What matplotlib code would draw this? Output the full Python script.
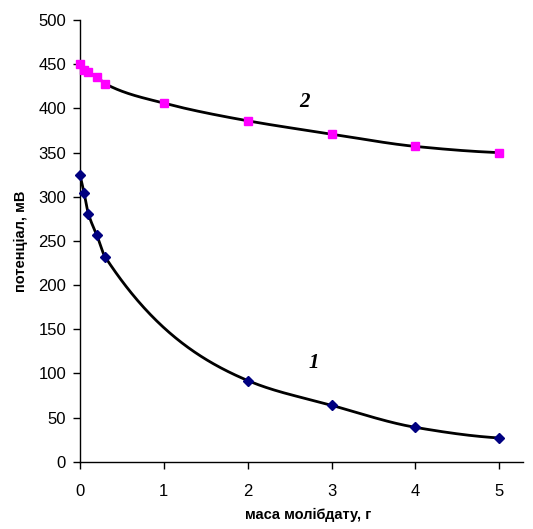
import numpy as np
import matplotlib.pyplot as plt

# маса молібдату, г
mass_1 = [0, 0.05, 0.1, 0.2, 0.3, 2, 3, 4, 5]
potential_1 = [325, 304, 281, 257, 232, 92, 64, 39, 27]

mass_2 = [0, 0.05, 0.1, 0.2, 0.3, 1, 2, 3, 4, 5]
potential_2 = [450, 444, 441, 436, 428, 406, 386, 371, 357, 350]


def smooth(x, y, n=400):
    # монотонна кубічна інтерполяція (PCHIP)
    x = np.asarray(x, float)
    y = np.asarray(y, float)
    h = np.diff(x)
    delta = np.diff(y) / h
    d = np.zeros_like(y)
    for k in range(1, len(x) - 1):
        if delta[k - 1] * delta[k] > 0:
            w1 = 2 * h[k] + h[k - 1]
            w2 = h[k] + 2 * h[k - 1]
            d[k] = (w1 + w2) / (w1 / delta[k - 1] + w2 / delta[k])
    d[0] = ((2 * h[0] + h[1]) * delta[0] - h[0] * delta[1]) / (h[0] + h[1])
    if np.sign(d[0]) != np.sign(delta[0]):
        d[0] = 0
    d[-1] = ((2 * h[-1] + h[-2]) * delta[-1] - h[-1] * delta[-2]) / (h[-1] + h[-2])
    if np.sign(d[-1]) != np.sign(delta[-1]):
        d[-1] = 0
    xs = np.linspace(x[0], x[-1], n)
    k = np.clip(np.searchsorted(x, xs) - 1, 0, len(x) - 2)
    s = (xs - x[k]) / h[k]
    h00 = 2 * s**3 - 3 * s**2 + 1
    h10 = s**3 - 2 * s**2 + s
    h01 = -2 * s**3 + 3 * s**2
    h11 = s**3 - s**2
    ys = h00 * y[k] + h10 * h[k] * d[k] + h01 * y[k + 1] + h11 * h[k] * d[k + 1]
    return xs, ys


plt.rcParams['font.family'] = ['Liberation Sans', 'DejaVu Sans']

fig = plt.figure(figsize=(5.33, 5.29), dpi=100)
ax = fig.add_axes([0.150, 0.127, 0.831, 0.835])

sx, sy = smooth(mass_1, potential_1)
ax.plot(sx, sy, color='black', lw=2, zorder=2)
sx, sy = smooth(mass_2, potential_2)
ax.plot(sx, sy, color='black', lw=2, zorder=2)

ax.plot(mass_1, potential_1, 'D', color='#000080', ms=5, zorder=3, clip_on=False)
ax.plot(mass_2, potential_2, 's', color='#FF00FF', ms=5.5, zorder=3, clip_on=False)

ax.text(2.68, 407, '2', fontsize=15, fontweight='bold', fontstyle='italic',
        family=['Liberation Serif'], ha='center', va='center')
ax.text(2.79, 112, '1', fontsize=15, fontweight='bold', fontstyle='italic',
        family=['Liberation Serif'], ha='center', va='center')

ax.set_xlim(0, 5.28)
ax.set_ylim(0, 500)
ax.set_xticks(range(0, 6))
ax.set_yticks(range(0, 501, 50))
ax.spines['top'].set_visible(False)
ax.spines['right'].set_visible(False)
ax.spines['left'].set_linewidth(1)
ax.spines['bottom'].set_linewidth(1)
ax.tick_params(direction='out', length=5, width=1, labelsize=12, colors='black')
ax.tick_params(axis='x', pad=11)
ax.tick_params(axis='y', pad=5)

ax.set_xlabel('маса молібдату, г', fontsize=10.5, fontweight='bold')
ax.set_ylabel('потенціал, мВ', fontsize=10.5, fontweight='bold', labelpad=7)
ax.xaxis.set_label_coords(0.515, -0.105)

fig.savefig('out.png', dpi=100)
